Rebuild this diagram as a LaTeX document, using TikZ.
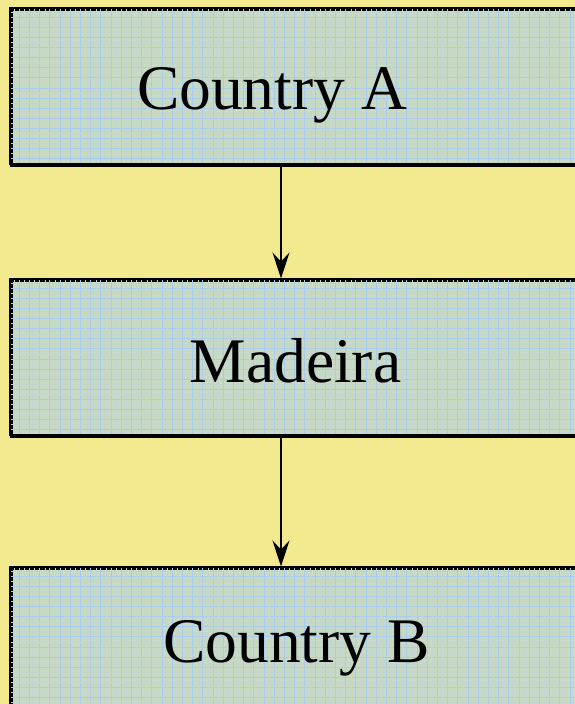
\documentclass[tikz,border=0pt]{standalone}
\usepackage{fontspec}
\setmainfont{Liberation Serif}
\usetikzlibrary{arrows.meta}
\definecolor{bgyellow}{HTML}{F3E98F}
\definecolor{boxfill}{HTML}{C9DAC4}
\definecolor{gridblue}{HTML}{A9CCEC}
\definecolor{gridfine}{HTML}{C3D7CE}
\tikzset{
  box/.style={draw=black, line width=2.8pt, fill=boxfill, rectangle, inner sep=0pt},
  lbl/.style={font=\fontsize{63.5}{70}\selectfont, anchor=base, inner sep=0pt, text=black},
  conn/.style={line width=2.2pt, -{Stealth[length=26pt,width=17pt,inset=9pt]}, shorten >=0.5pt}
}
\newcommand{\gridbox}[4]{%
  \begin{scope}
    \clip (#1,#2) rectangle (#3,#4);
    \foreach \k in {0,...,60} {
      \draw[gridfine, line width=0.4pt] ({#1+4.2+10.2*\k},#2) -- ({#1+4.2+10.2*\k},#4);
      \draw[gridfine, line width=0.4pt] (#1,{#2+4.2+10.1*\k}) -- (#3,{#2+4.2+10.1*\k});
      \draw[gridblue, line width=0.9pt] ({#1+9.3+10.2*\k},#2) -- ({#1+9.3+10.2*\k},#4);
      \draw[gridblue, line width=0.9pt] (#1,{#2+9.3+10.1*\k}) -- (#3,{#2+9.3+10.1*\k});
    }
  \end{scope}}
\begin{document}
\begin{tikzpicture}[x=1pt,y=-1pt]
  \fill[bgyellow] (0,0) rectangle (575,704);
  \useasboundingbox (0,0) rectangle (575,704);
  \begin{scope}
  \clip (0,0) rectangle (575,704);
  % boxes
  \node[box, minimum width=600pt, minimum height=156pt, anchor=north west] (boxA) at (10,8) {};
  \node[box, minimum width=600pt, minimum height=156pt, anchor=north west] (boxB) at (10,279) {};
  \node[box, minimum width=600pt, minimum height=160pt, anchor=north west] (boxC) at (10,567) {};
  \gridbox{10}{8}{610}{164}
  \gridbox{10}{279}{610}{435}
  \gridbox{10}{567}{610}{727}
  \draw[line width=2.8pt] (10,8) rectangle (610,164);
  \draw[line width=2.8pt] (10,279) rectangle (610,435);
  \draw[line width=2.8pt] (10,567) rectangle (610,727);
  % labels
  \node[lbl] (tA) at (272,109.5) {Country A};
  \node[lbl] (tB) at (295.5,382) {Madeira};
  \node[lbl] (tC) at (296.5,662) {Country B};
  % connectors
  \coordinate (a1) at (281,164);
  \coordinate (b0) at (281,279);
  \coordinate (b1) at (281,435);
  \coordinate (c0) at (281,567);
  \draw[conn] (boxA.south -| a1) -- (boxB.north -| b0);
  \draw[conn] (boxB.south -| b1) -- (boxC.north -| c0);
  \end{scope}
\end{tikzpicture}
\end{document}
